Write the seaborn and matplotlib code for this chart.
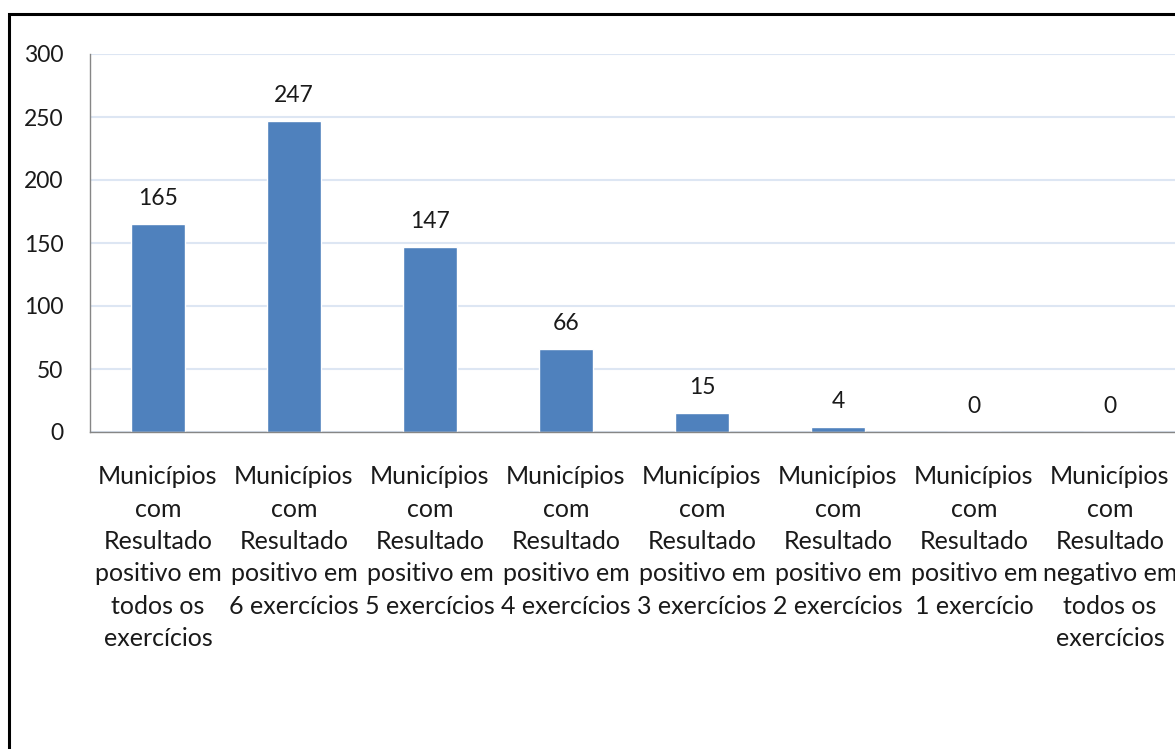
import matplotlib
matplotlib.use("Agg")
import matplotlib.pyplot as plt
import seaborn as sns
from matplotlib.patches import Rectangle

categorias = [
    "Municípios\ncom\nResultado\npositivo em\ntodos os\nexercícios",
    "Municípios\ncom\nResultado\npositivo em\n6 exercícios",
    "Municípios\ncom\nResultado\npositivo em\n5 exercícios",
    "Municípios\ncom\nResultado\npositivo em\n4 exercícios",
    "Municípios\ncom\nResultado\npositivo em\n3 exercícios",
    "Municípios\ncom\nResultado\npositivo em\n2 exercícios",
    "Municípios\ncom\nResultado\npositivo em\n1 exercício",
    "Municípios\ncom\nResultado\nnegativo em\ntodos os\nexercícios",
]
valores = [165, 247, 147, 66, 15, 4, 0, 0]
y_ticks = [0, 50, 100, 150, 200, 250, 300]

BAR_COLOR = "#4F81BD"
AXIS_COLOR = "#868686"
GRID_COLOR = "#DDE6F3"
TEXT_COLOR = "#1A1A1A"

sns.set_style("white")
plt.rcParams['font.family'] = ['Lato', 'DejaVu Sans']

W, H = 1175, 749
fig = plt.figure(figsize=(W / 100, H / 100), dpi=100)
ax = fig.add_axes([90 / W, (H - 432) / H, (1178 - 90) / W, (432 - 54) / H])

sns.barplot(x=list(range(len(valores))), y=valores, color=BAR_COLOR,
            saturation=1, width=0.4, ax=ax)

ax.set_xlim(-0.5, len(valores) - 0.5)
ax.set_ylim(0, 300)
ax.set_yticks(y_ticks)
ax.set_yticklabels([str(t) for t in y_ticks])
ax.yaxis.grid(True, color=GRID_COLOR, linewidth=1.5)
ax.set_axisbelow(True)

# category boundaries carry the ticks, labels sit under bar centres
ax.set_xticks([i - 0.5 for i in range(len(valores) + 1)])
ax.set_xticklabels([])
ax.set_xticks(list(range(len(valores))), minor=True)
ax.set_xticklabels(categorias, minor=True, fontsize=18, color=TEXT_COLOR,
                   linespacing=1.49, ha="center", va="top")
ax.tick_params(axis="x", which="minor", length=0, pad=24)
ax.tick_params(axis="x", which="major", length=8, width=1, color=AXIS_COLOR, direction="out")
ax.tick_params(axis="y", length=8, width=1, color=AXIS_COLOR, direction="out",
               labelsize=16.5, labelcolor=TEXT_COLOR, pad=11)

for side in ["top", "right"]:
    ax.spines[side].set_visible(False)
for side in ["left", "bottom"]:
    ax.spines[side].set_color(AXIS_COLOR)
    ax.spines[side].set_linewidth(1)

ax.set_xlabel("")
ax.set_ylabel("")

for cont in ax.containers:
    ax.bar_label(cont, labels=[str(v) for v in valores], padding=11,
                 fontsize=16.5, color=TEXT_COLOR)

# black frame around the chart (cropped on right and bottom)
fig.patches.append(Rectangle((8.5 / W, -0.1), 1.2, (H - 14) / H + 0.1,
                             transform=fig.transFigure, fill=False,
                             edgecolor="black", linewidth=2.2, clip_on=False))

fig.savefig("out.png", dpi=100)
